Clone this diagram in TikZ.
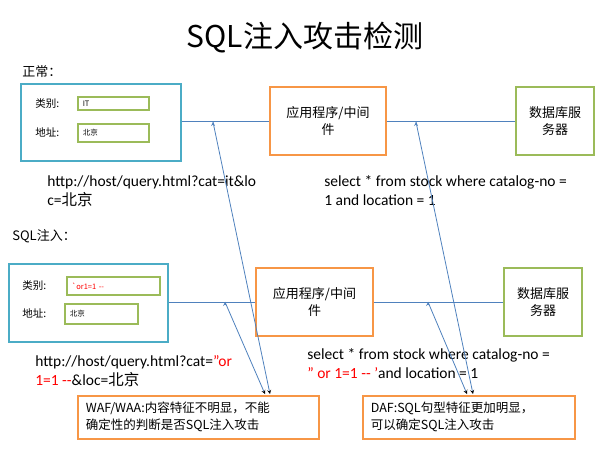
\documentclass[tikz,border=0pt]{standalone}
\usepackage{fontspec}
\setmainfont{Carlito}
\newfontfamily\zh{Noto Sans CJK SC}
\usetikzlibrary{arrows, positioning}

\begin{document}
\begin{tikzpicture}[x=1pt, y=-1pt, >=stealth, semithick]
\tikzstyle{form}=[draw={rgb,255:red,75;green,172;blue,198}, line width=1.6pt,
                  anchor=north west, inner sep=0pt]
\tikzstyle{field}=[draw={rgb,255:red,155;green,187;blue,89}, line width=1.6pt,
                   anchor=north west, inner xsep=5pt, inner ysep=0pt,
                   font=\zh\fontsize{7.5}{8}\selectfont, align=left]
\tikzstyle{proc}=[draw={rgb,255:red,247;green,150;blue,70}, line width=1.6pt,
                  align=center, font=\zh\fontsize{13}{17}\selectfont]
\tikzstyle{db}=[draw={rgb,255:red,155;green,187;blue,89}, line width=1.6pt,
                align=center, font=\zh\fontsize{13}{17}\selectfont]
\tikzstyle{note}=[draw={rgb,255:red,247;green,150;blue,70}, line width=1.6pt,
                  align=left, anchor=north west, inner xsep=8pt,
                  font=\zh\fontsize{12.5}{17}\selectfont]
\tikzstyle{txt}=[anchor=west, inner sep=0pt, font=\fontsize{15.5}{19}\selectfont, align=left]
\tikzstyle{lbl}=[anchor=west, inner sep=0pt, font=\zh\fontsize{10.5}{12}\selectfont]
\tikzstyle{wire}=[draw={rgb,255:red,79;green,129;blue,189}, line width=0.8pt]
\useasboundingbox (0,0) rectangle (612,451);
  \node (title) at (305,38) {\zh\fontsize{30}{34}\selectfont SQL注入攻击检测};
  %
  \node[lbl, font=\zh\fontsize{13}{14}\selectfont] (normal) at (22,72) {正常：};
  \node[form, minimum width=160pt, minimum height=77pt] (form1) at (20,83) {};
  \node[lbl] (cat1) at (35,104) {类别:};
  \node[lbl] (loc1) at (35,132) {地址:};
  \node[field, text width=61pt, minimum height=13pt] (catv1) at (77,96) {IT};
  \node[field, text width=61pt, minimum height=18pt] (locv1) at (77,123) {北京};
  \node[proc, minimum width=116pt, minimum height=68pt] (app1) at (328,121) {应用程序/中间\\件};
  \node[db, minimum width=78pt, minimum height=68pt] (db1) at (555,121) {数据库服\\务器};
  \node[txt] (url1) at (47,191) {http://host/query.html?cat=it\&lo\\c={\zh 北京}};
  \node[txt] (sql1) at (324,191) {select * from stock where catalog-no =\\1 and location = 1};
  %
  \node[lbl, font=\zh\fontsize{13}{14}\selectfont] (inject) at (12,236) {SQL注入：};
  \node[form, minimum width=159pt, minimum height=78pt] (form2) at (8,263) {};
  \node[lbl] (cat2) at (22,286) {类别:};
  \node[lbl] (loc2) at (22,313) {地址:};
  \node[field, text width=83pt, minimum height=18pt, text=red] (catv2) at (66,276) {`or1=1 {-}{-}};
  \node[field, text width=63pt, minimum height=20pt] (locv2) at (64,303) {北京};
  \node[proc, minimum width=117pt, minimum height=68pt] (app2) at (314.5,302) {应用程序/中间\\件};
  \node[db, minimum width=78pt, minimum height=68pt] (db2) at (543,302) {数据库服\\务器};
  \node[txt] (url2) at (35,371) {http://host/query.html?cat=\textcolor{red}{''or}\\\textcolor{red}{1=1 {-}{-}}\&loc={\zh 北京}};
  \node[txt] (sql2) at (307,364) {select * from stock where catalog-no =\\\textcolor{red}{'' or 1=1 {-}{-} '}and location = 1};
  %
  \node[note, text width=225pt, minimum height=43pt] (waf) at (77,395) {WAF/WAA:内容特征不明显，不能\\确定性的判断是否SQL注入攻击};
  \node[note, text width=196pt, minimum height=43pt] (daf) at (362,395) {DAF:SQL句型特征更加明显，\\可以确定SQL注入攻击};
  %
  \path[wire] (form1.east |- app1.west) -- (app1.west);
  \path[wire] (app1.east) -- (db1.west);
  \path[wire] (form2.east |- app2.west) -- (app2.west);
  \path[wire] (app2.east) -- (db2.west);
  %
  \coordinate (t1) at (213,122);
  \coordinate (t2) at (416,122);
  \coordinate (b1) at (225,302);
  \coordinate (b2) at (428,302);
  \path[wire, ->] (t1) edge (270,394);
  \path[wire, ->] (b1) edge (265,394);
  \path[wire, ->] (t2) edge (473,394);
  \path[wire, ->] (b2) edge (467,394);
\end{tikzpicture}
\end{document}
